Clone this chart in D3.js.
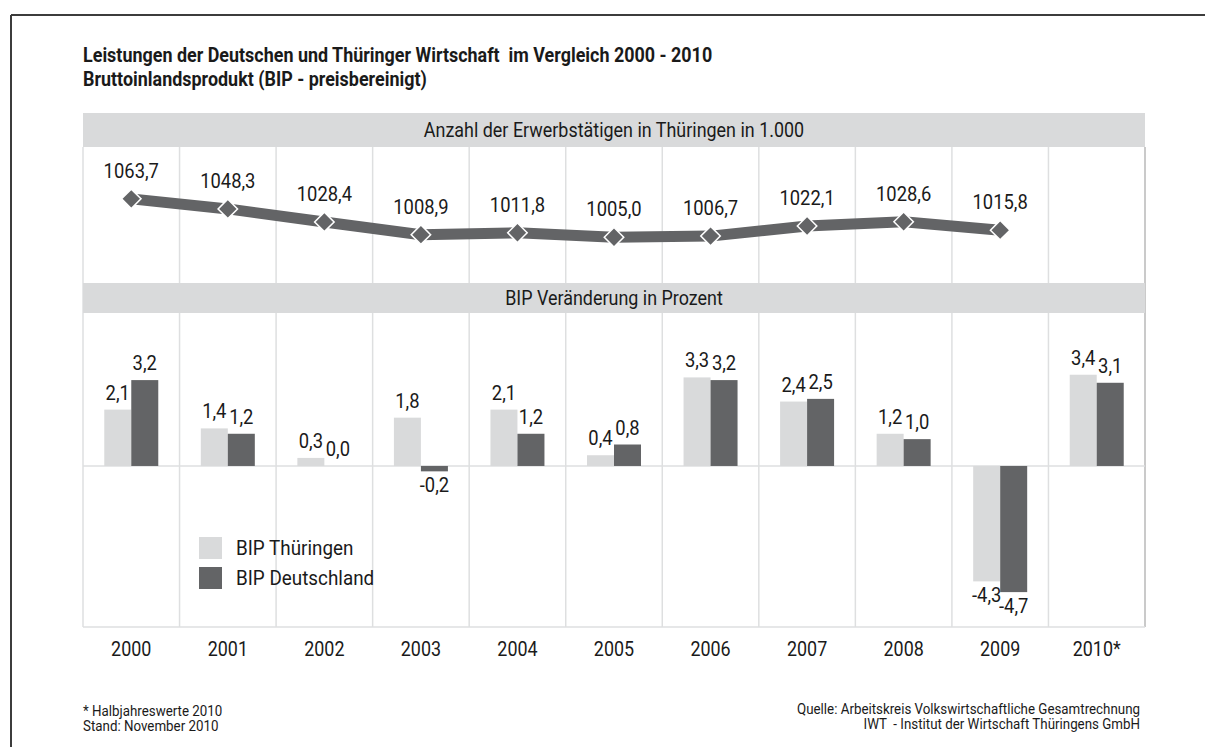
<!DOCTYPE html>
<html>
<head>
<meta charset="utf-8">
<script src="https://cdn.jsdelivr.net/npm/d3@7"></script>
<style>
  body { margin: 0; background: #fff; }
  svg text { font-family: Roboto, "Liberation Sans", sans-serif; fill: #1a1a1a; }
</style>
</head>
<body>
<div id="canvas"></div>
<script>
"use strict"

// data
let years = ["2000", "2001", "2002", "2003", "2004", "2005", "2006", "2007", "2008", "2009", "2010*"];
let erwerbstaetige = [1063.7, 1048.3, 1028.4, 1008.9, 1011.8, 1005.0, 1006.7, 1022.1, 1028.6, 1015.8, null];
let bipThueringen = [2.1, 1.4, 0.3, 1.8, 2.1, 0.4, 3.3, 2.4, 1.2, -4.3, 3.4];
let bipDeutschland = [3.2, 1.2, 0.0, -0.2, 1.2, 0.8, 3.2, 2.5, 1.0, -4.7, 3.1];
let seriesNames = ["BIP Thüringen", "BIP Deutschland"];

let lightGray = "#d9dadb";
let darkGray = "#636466";
let gridGray = "#dedfe0";
let squeeze = 0.92; // condensed look: Roboto squeezed a bit horizontally

let fmt = v => v.toFixed(1).replace(".", ",");

let drawing = d3.select("#canvas")
    .append("svg")
    .attr("width", 1205)
    .attr("height", 747);

// text helper, squeezes the glyphs around the anchor point
function label(px, py, str, size, anchor, weight) {
    return drawing.append("text")
        .attr("transform", "translate(" + px + "," + py + ") scale(" + squeeze + ",1)")
        .attr("text-anchor", anchor || "start")
        .attr("font-size", size)
        .attr("font-weight", weight || "normal")
        .attr("xml:space", "preserve")
        .text(str);
}

// frame
drawing.append("line")
    .attr("x1", 11).attr("y1", 15).attr("x2", 1205).attr("y2", 15)
    .attr("stroke", "#3c3c3c").attr("stroke-width", 2);
drawing.append("line")
    .attr("x1", 11).attr("y1", 15).attr("x2", 11).attr("y2", 747)
    .attr("stroke", "#3c3c3c").attr("stroke-width", 2);

// title
label(83, 62, "Leistungen der Deutschen und Thüringer Wirtschaft  im Vergleich 2000 - 2010", 19.5, "start", "bold");
label(83, 86, "Bruttoinlandsprodukt (BIP - preisbereinigt)", 19.5, "start", "bold");

// scales
let x = d3.scaleBand()
    .domain(years)
    .range([83, 1145])
    .padding(0);

let xInner = d3.scaleBand()
    .domain(seriesNames)
    .range([0, 54]);

let yLine = d3.scaleLinear()
    .domain([935, 1143])
    .range([283, 147]);

let yBar = d3.scaleLinear()
    .domain([-6, 5.7])
    .range([627, 313]);

let cx = d => x(d) + x.bandwidth() / 2;

// grid lines
let boundaries = years.map(d => x(d)).concat([x.range()[1]]);
drawing.selectAll(".vgrid")
    .data(boundaries)
    .enter()
    .append("line")
    .attr("class", "vgrid")
    .attr("x1", d => d).attr("x2", d => d)
    .attr("y1", 147).attr("y2", yBar.range()[0])
    .attr("stroke", (d, i) => i == boundaries.length - 1 ? "#b8b8b8" : gridGray)
    .attr("stroke-width", 1.5);

drawing.append("line")
    .attr("x1", 83).attr("x2", 1145)
    .attr("y1", yBar(0)).attr("y2", yBar(0))
    .attr("stroke", gridGray).attr("stroke-width", 1.5);
drawing.append("line")
    .attr("x1", 83).attr("x2", 1145)
    .attr("y1", yBar.range()[0]).attr("y2", yBar.range()[0])
    .attr("stroke", gridGray).attr("stroke-width", 1.5);

// header bands
let bands = [
    { y: 113, h: 34, label: "Anzahl der Erwerbstätigen in Thüringen in 1.000" },
    { y: 283, h: 30, label: "BIP Veränderung in Prozent" }
];
bands.forEach(b => {
    drawing.append("rect")
        .attr("x", 83).attr("y", b.y)
        .attr("width", 1062).attr("height", b.h)
        .attr("fill", lightGray);
    label(614, b.y + b.h / 2 + 7, b.label, 19.5, "middle");
});

// line chart (employment)
let linePoints = years.map((d, i) => ({ year: d, value: erwerbstaetige[i] }))
    .filter(d => d.value != null);

let lineGen = d3.line()
    .x(d => cx(d.year))
    .y(d => yLine(d.value));

drawing.append("path")
    .datum(linePoints)
    .attr("d", lineGen)
    .attr("fill", "none")
    .attr("stroke", darkGray)
    .attr("stroke-width", 11)
    .attr("stroke-linejoin", "round");

drawing.selectAll(".marker")
    .data(linePoints)
    .enter()
    .append("path")
    .attr("class", "marker")
    .attr("d", d3.symbol().type(d3.symbolSquare).size(190))
    .attr("transform", d => "translate(" + cx(d.year) + "," + yLine(d.value) + ") rotate(45)")
    .attr("fill", darkGray)
    .attr("stroke", "#fff")
    .attr("stroke-width", 1.5);

linePoints.forEach(d => {
    label(cx(d.year), yLine(d.value) - 21, fmt(d.value), 20, "middle");
});

// bar chart (BIP)
let barData = [];
years.forEach((yr, i) => {
    barData.push({ year: yr, series: seriesNames[0], value: bipThueringen[i], color: lightGray });
    barData.push({ year: yr, series: seriesNames[1], value: bipDeutschland[i], color: darkGray });
});

let barLeft = d => cx(d.year) - 27 + xInner(d.series);

drawing.selectAll(".bar")
    .data(barData)
    .enter()
    .append("rect")
    .attr("class", "bar")
    .attr("x", d => barLeft(d))
    .attr("y", d => yBar(Math.max(0, d.value)))
    .attr("width", xInner.bandwidth())
    .attr("height", d => Math.abs(yBar(d.value) - yBar(0)))
    .attr("fill", d => d.color);

barData.forEach(d => {
    let ly = d.value < 0 ? yBar(d.value) + 21 : yBar(d.value) - 10;
    label(barLeft(d) + xInner.bandwidth() / 2, ly, fmt(d.value), 20, "middle");
});

// x axis labels
years.forEach(d => {
    label(cx(d), 656, d, 19.5, "middle");
});

// legend
let legendColors = [lightGray, darkGray];
seriesNames.forEach((name, i) => {
    drawing.append("rect")
        .attr("x", 199).attr("y", 537 + i * 30)
        .attr("width", 23).attr("height", 22)
        .attr("fill", legendColors[i]);
    label(236, 555 + i * 30, name, 20.5, "start");
});

// footnotes
let leftNotes = ["* Halbjahreswerte 2010", "Stand: November 2010"];
let rightNotes = ["Quelle: Arbeitskreis Volkswirtschaftliche Gesamtrechnung", "IWT  - Institut der Wirtschaft Thüringens GmbH"];
leftNotes.forEach((t, i) => {
    label(83, 716 + i * 15, t, 14.5, "start");
});
rightNotes.forEach((t, i) => {
    label(1140, 713.5 + i * 15.5, t, 14.5, "end");
});
</script>
</body>
</html>
